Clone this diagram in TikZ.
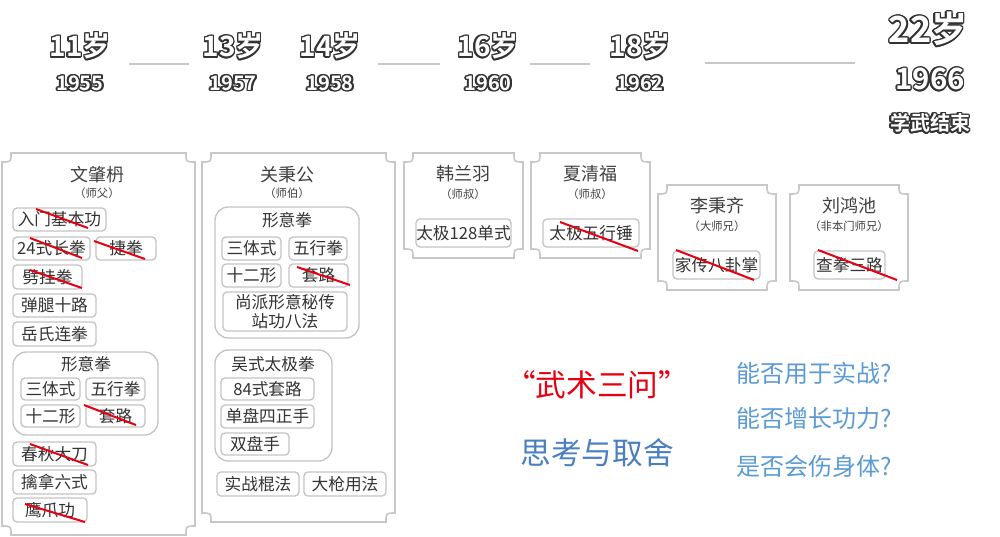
\documentclass[tikz,border=0pt]{standalone}
\usepackage{fontspec}
\setmainfont{Noto Sans CJK SC}
\newfontfamily\cjkb{Noto Sans CJK SC Bold}
\usepackage{contour}
\contourlength{1.1pt}
\usetikzlibrary{calc}
\definecolor{cardline}{HTML}{C8C8C8}
\definecolor{itemline}{HTML}{C4C4C4}
\definecolor{qred}{HTML}{E60012}
\definecolor{qblue}{HTML}{4A80C0}
\definecolor{lblue}{HTML}{5B9BD5}
\definecolor{tgray}{HTML}{333333}
\newcommand{\card}[4]{%
 \draw[cardline,line width=1.2pt,fill=white] ($(#1,#2)+(9,0)$) -- ($(#3,#2)+(-9,0)$) .. controls ($(#3,#2)+(-9,9)$) .. ($(#3,#2)+(0,9)$)
 -- ($(#3,#4)+(0,-9)$) .. controls ($(#3,#4)+(-9,-9)$) .. ($(#3,#4)+(-9,0)$)
 -- ($(#1,#4)+(9,0)$) .. controls ($(#1,#4)+(9,-9)$) .. ($(#1,#4)+(0,-9)$)
 -- ($(#1,#2)+(0,9)$) .. controls ($(#1,#2)+(9,9)$) .. ($(#1,#2)+(9,0)$) -- cycle;}
\newcommand{\itm}[6]{%
 \draw[itemline,line width=1pt,rounded corners=3pt,fill=white] (#2,#3) rectangle (#4,#5);
 \node[itemtxt] (#1) at ($(#2,#3)!.5!(#4,#5)$) {#6};}
\newcommand{\grp}[5]{%
 \draw[itemline,line width=1pt,rounded corners=10pt] (#2,#3) rectangle (#4,#5);}
\newcommand{\hdr}[4]{\node[font=\cjkb\fontsize{#4}{#4}\selectfont] (#1) at (#2) {\contour{black!80}{\textcolor{white}{#3}}};}
\tikzset{itemtxt/.style={font=\fontsize{12.5}{14}\selectfont,text=tgray,inner sep=0pt},
 strike/.style={draw=qred,line width=1.5pt},
 ttl/.style={font=\fontsize{13.5}{15}\selectfont,text=black!75},
 sub/.style={font=\fontsize{8.5}{10}\selectfont,text=black!75},
 gttl/.style={font=\fontsize{12.5}{14}\selectfont,text=tgray},
 tl/.style={draw=cardline,line width=1.2pt}}
\begin{document}
\begin{tikzpicture}[x=0.75pt,y=-0.75pt]
\useasboundingbox[fill=white] (0,0) rectangle (1000,536);
% timeline
\hdr{a11}{80,47}{11岁}{21}
\hdr{y55}{80,84}{1955}{15}
\hdr{a13}{233,47}{13岁}{21}
\hdr{y57}{233,84}{1957}{15}
\hdr{a14}{330,47}{14岁}{21}
\hdr{y58}{330,84}{1958}{15}
\hdr{a16}{488,47}{16岁}{21}
\hdr{y60}{488,84}{1960}{15}
\hdr{a18}{640,47}{18岁}{21}
\hdr{y62}{640,84}{1962}{15}
\hdr{a22}{928,30}{22岁}{27}
\hdr{y66}{930,80}{1966}{22}
\hdr{end}{930,124}{学武结束}{15}
\coordinate (l1a) at (129,64); \coordinate (l1b) at (189,64);
\coordinate (l2a) at (378,64); \coordinate (l2b) at (440,64);
\coordinate (l3a) at (530,64); \coordinate (l3b) at (590,64);
\coordinate (l4a) at (705,63); \coordinate (l4b) at (855,63);
\draw[tl] (l1a)--(l1b); \draw[tl] (l2a)--(l2b); \draw[tl] (l3a)--(l3b); \draw[tl] (l4a)--(l4b);
% card 1
\card{2}{153}{195}{535}
\node[ttl] (t1) at (97,175) {文肇枬};
\node[sub] (s1) at (97,193) {（师父）};
\itm{i1}{13}{208}{106}{231}{入门基本功}
\itm{i2}{13}{237}{90}{260}{24式长拳}
\itm{i3}{96}{237}{156}{260}{捷拳}
\itm{i4}{13}{265}{82}{289}{劈挂拳}
\itm{i5}{13}{294}{96}{317}{弹腿十路}
\itm{i6}{13}{322}{96}{346}{岳氏连拳}
\grp{g1}{13}{352}{158}{435}
\node[gttl] (g1t) at (86,364) {形意拳};
\itm{i7}{21}{378}{80}{400}{三体式}
\itm{i8}{86}{378}{145}{400}{五行拳}
\itm{i9}{21}{405}{80}{427}{十二形}
\itm{i10}{86}{405}{145}{427}{套路}
\itm{i11}{13}{442}{96}{466}{春秋大刀}
\itm{i12}{13}{470}{96}{494}{擒拿六式}
\itm{i13}{13}{498}{87}{522}{鹰爪功}
\draw[strike] (36,209)--(88,228);
\draw[strike] (30,238)--(82,258);
\draw[strike] (94,241)--(145,259);
\draw[strike] (30,270)--(82,288);
\draw[strike] (84,405)--(136,425);
\draw[strike] (30,444)--(88,465);
\draw[strike] (25,504)--(85,522);
% card 2
\card{202}{153}{395}{522}
\node[ttl] (t2) at (287,175) {关秉公};
\node[sub] (s2) at (287,193) {（师伯）};
\grp{g2}{215}{207}{359}{338}
\node[gttl] (g2t) at (287,220) {形意拳};
\itm{j1}{222}{237}{281}{260}{三体式}
\itm{j2}{289}{237}{347}{260}{五行拳}
\itm{j3}{222}{264}{281}{287}{十二形}
\itm{j4}{289}{264}{348}{287}{套路}
\draw[strike] (297,267)--(350,285);
\draw[itemline,line width=1pt,rounded corners=3pt] (223,292) rectangle (347,331);
\node[itemtxt,align=center] (j5) at (285,311.5) {尚派形意秘传\\站功八法};
\grp{g3}{215}{350}{332}{461}
\node[gttl] (g3t) at (273,364) {吴式太极拳};
\itm{j6}{221}{378}{314}{400}{84式套路}
\itm{j7}{221}{405}{314}{428}{单盘四正手}
\itm{j8}{221}{433}{289}{455}{双盘手}
\itm{j9}{217}{472}{299}{496}{实战棍法}
\itm{j10}{304}{472}{386}{496}{大枪用法}
% card 3
\card{404}{153}{523}{258}
\node[ttl] (t3) at (463,174) {韩兰羽};
\node[sub] (s3) at (463,194) {（师叔）};
\itm{k1}{416}{219}{511}{247}{太极128单式}
% card 4
\card{531}{153}{650}{258}
\node[ttl] (t4) at (590,174) {夏清福};
\node[sub] (s4) at (590,194) {（师叔）};
\itm{k2}{543}{219}{639}{247}{太极五行锤}
\draw[strike] (560,222)--(638,251);
% card 5
\card{658}{185}{776}{290}
\node[ttl] (t5) at (717,206) {李秉齐};
\node[sub] (s5) at (717,226) {（大师兄）};
\itm{k3}{673}{251}{760}{279}{家传八卦掌}
\draw[strike] (676,250)--(754,280);
% card 6
\card{790}{185}{908}{290}
\node[ttl] (t6) at (849,206) {刘鸿池};
\node[sub] (s6) at (849,226) {（非本门师兄）};
\itm{k4}{814}{251}{885}{279}{查拳三路}
\draw[strike] (818,250)--(897,280);
% bottom texts
\node[font=\fontsize{23}{26}\selectfont,text=qred] (q0) at (597,385) {“武术三问”};
\node[font=\fontsize{23}{26}\selectfont,text=qblue] (q4) at (597,453) {思考与取舍};
\node[font=\fontsize{18}{20}\selectfont,text=lblue,anchor=west] (q1) at (732,373) {能否用于实战?};
\node[font=\fontsize{18}{20}\selectfont,text=lblue,anchor=west] (q2) at (732,418) {能否增长功力?};
\node[font=\fontsize{18}{20}\selectfont,text=lblue,anchor=west] (q3) at (732,466) {是否会伤身体?};
\end{tikzpicture}
\end{document}
